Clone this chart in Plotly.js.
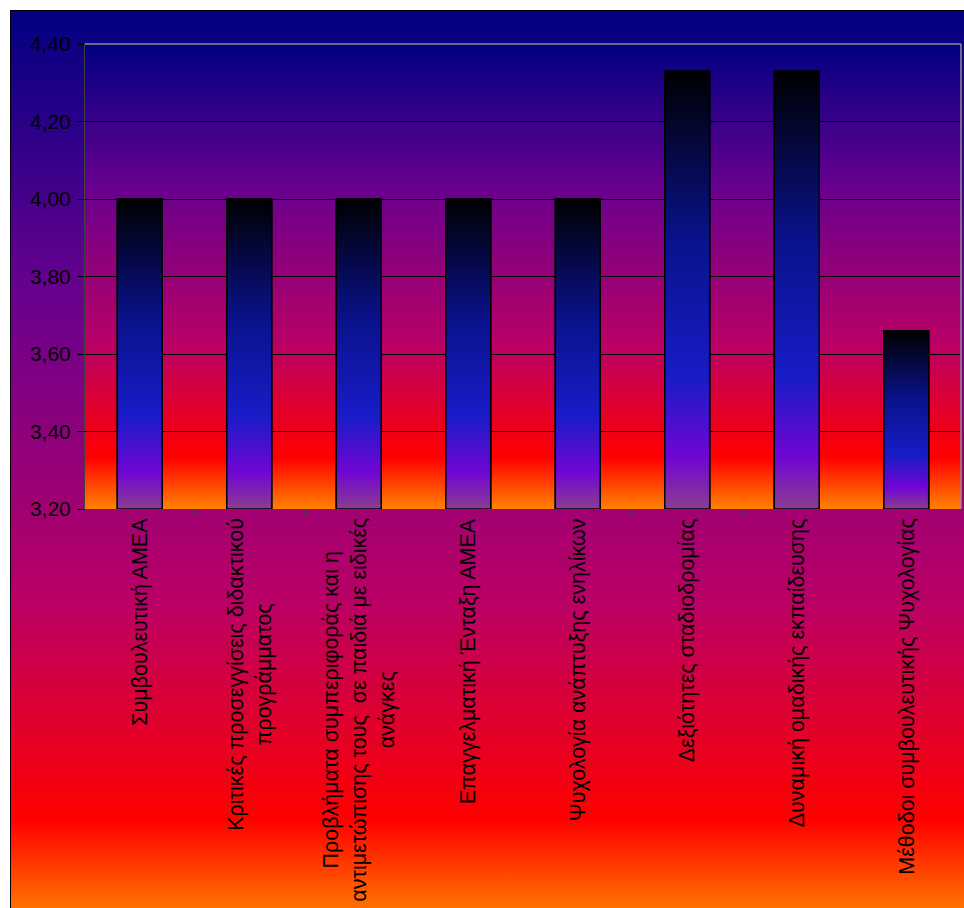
<!DOCTYPE html>
<html>
<head>
<meta charset="utf-8">
<script src="https://cdn.plot.ly/plotly-3.0.1.min.js"></script>
<style>
  html, body { margin: 0; padding: 0; width: 964px; height: 908px; overflow: hidden; background: #ffffff; }
  #bg { position: absolute; left: 10px; top: 10px; width: 964px; height: 910px; box-sizing: border-box;
        border-left: 1px solid #000; border-top: 1px solid #000;
        background: linear-gradient(to bottom, #000082 0%, #66008F 30%, #BA0066 64.7%, #FF0000 89%, #FF8200 100%); }
  #chart { position: absolute; left: 0; top: 0; width: 964px; height: 908px; }
</style>
</head>
<body>
<div id="bg"></div>
<div id="chart"></div>
<script>
// ---- data ----
var categories = [
  "Συμβουλευτική ΑΜΕΑ",
  "Κριτικές προσεγγίσεις διδακτικού<br>προγράμματος",
  "Προβλήματα συμπεριφοράς και η<br>αντιμετώπισης τους  σε παιδιά με ειδικές<br>ανάγκες",
  "Επαγγελματική Ένταξη ΑΜΕΑ",
  "Ψυχολογία ανάπτυξης ενηλίκων",
  "Δεξιότητες σταδιοδρομίας",
  "Δυναμική ομαδικής εκπαίδευσης",
  "Μέθοδοι συμβουλευτικής Ψυχολογίας"
];
var values = [4.00, 4.00, 4.00, 4.00, 4.00, 4.33, 4.33, 3.66];
var yTickValues = [3.2, 3.4, 3.6, 3.8, 4.0, 4.2, 4.4];
var yRange = [3.2, 4.4];

// ---- styles ----
var barWidth = 0.41;
var FONT = "Liberation Sans, Arial, sans-serif";
var nightfall = [[0, '#8C3D91'], [0.12, '#7005D4'], [0.30, '#181CC7'], [0.61, '#0A128C'], [1, '#000000']];

var idx = categories.map(function (c, i) { return i; });
var boundaries = [];
for (var b = 0; b <= categories.length; b++) boundaries.push(b - 0.5);

var traces = [{
  type: 'bar', x: idx, y: values, width: barWidth,
  marker: { color: '#181CC7', line: { color: '#000000', width: 1.5 } },
  hoverinfo: 'skip', showlegend: false
}];
values.forEach(function (v, i) {
  var x0 = i - barWidth / 2, x1 = i + barWidth / 2;
  traces.push({
    type: 'scatter', mode: 'lines',
    x: [x0, x0, x1, x1, x0],
    y: [yRange[0], v, v, yRange[0], yRange[0]],
    fill: 'toself',
    fillgradient: { type: 'vertical', colorscale: nightfall },
    line: { color: '#000000', width: 1.5 },
    hoverinfo: 'skip', showlegend: false
  });
});

var svg = '<svg xmlns="http://www.w3.org/2000/svg" width="100" height="100" viewBox="0 0 100 100" preserveAspectRatio="none">' +
  '<defs><linearGradient id="g" x1="0" y1="0" x2="0" y2="1">' +
  '<stop offset="0" stop-color="#000082"/><stop offset="0.3" stop-color="#66008F"/>' +
  '<stop offset="0.647" stop-color="#BA0066"/><stop offset="0.89" stop-color="#FF0000"/>' +
  '<stop offset="1" stop-color="#FF8200"/></linearGradient></defs>' +
  '<rect x="0" y="0" width="100" height="100" fill="url(#g)"/></svg>';
var svgUri = 'data:image/svg+xml;charset=utf-8,' + encodeURIComponent(svg);

var annotations = categories.map(function (c, i) {
  return {
    xref: 'x', yref: 'paper', x: i, y: 0, text: c,
    textangle: -90, showarrow: false, align: 'center',
    xanchor: 'center', yanchor: 'top', yshift: -7,
    font: { family: FONT, size: 21.5, color: '#000000' }
  };
});

var layout = {
  width: 964, height: 908,
  margin: { l: 85, r: 3, t: 44, b: 399, pad: 0 },
  paper_bgcolor: 'rgba(0,0,0,0)',
  plot_bgcolor: 'rgba(0,0,0,0)',
  separators: ',.',
  font: { family: FONT, size: 21, color: '#000000' },
  showlegend: false,
  images: [{
    source: svgUri, xref: 'paper', yref: 'paper', x: 0, y: 1, sizex: 1, sizey: 1,
    xanchor: 'left', yanchor: 'top', sizing: 'stretch', layer: 'below'
  }],
  xaxis: {
    range: [-0.5, categories.length - 0.5],
    tickmode: 'array', tickvals: boundaries, ticktext: boundaries.map(function () { return ''; }),
    ticks: 'outside', ticklen: 6, tickwidth: 1, tickcolor: '#404040',
    showgrid: false, zeroline: false,
    showline: true, linecolor: '#404040', linewidth: 1, fixedrange: true
  },
  yaxis: {
    range: yRange,
    tickmode: 'array', tickvals: yTickValues, tickformat: '.2f',
    ticks: 'outside', ticklen: 7, tickwidth: 1, tickcolor: '#000000',
    ticklabelstandoff: 2,
    showgrid: true, gridcolor: '#000000', gridwidth: 1,
    zeroline: false, showline: true, linecolor: '#404040', linewidth: 1,
    tickfont: { family: FONT, size: 21, color: '#000000' },
    fixedrange: true
  },
  shapes: [
    { type: 'line', xref: 'paper', yref: 'paper', x0: 0, x1: 1, y0: 1, y1: 1, line: { color: '#8c8c8c', width: 1.5 }, layer: 'above' },
    { type: 'line', xref: 'paper', yref: 'paper', x0: 1, x1: 1, y0: 0, y1: 1, line: { color: '#8c8c8c', width: 1.5 }, layer: 'above' }
  ],
  annotations: annotations
};

Plotly.newPlot('chart', traces, layout, { displayModeBar: false, staticPlot: true });
</script>
</body>
</html>
